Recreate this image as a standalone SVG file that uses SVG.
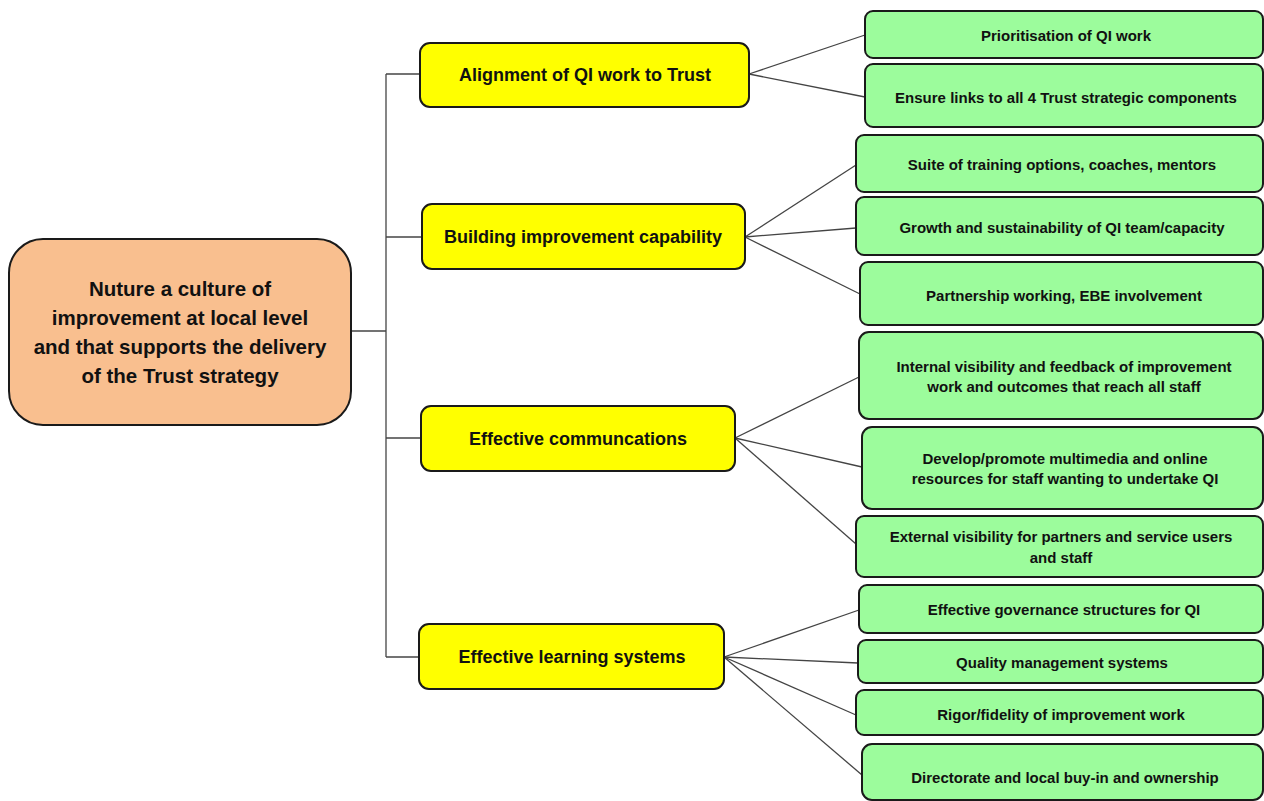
<svg xmlns="http://www.w3.org/2000/svg" width="1264" height="801" viewBox="0 0 1264 801">
<style>
text{font-family:"Liberation Sans",Arial,sans-serif;font-weight:bold;fill:#111;text-anchor:middle;dominant-baseline:central}
.root{fill:#F9BF8F;stroke:#1a1a1a;stroke-width:2}
.y{fill:#FFFF00;stroke:#1a1a1a;stroke-width:2}
.g{fill:#9CFC9C;stroke:#1a1a1a;stroke-width:2}
.rt{font-size:20.5px}
.yt{font-size:18px}
.gt{font-size:15px}
#connectors line{stroke:#444;stroke-width:1.3;fill:none}
</style>
<rect width="1264" height="801" fill="#fff"/>
<g id="connectors">
<line x1="351" y1="331" x2="386" y2="331"/>
<line x1="386" y1="74" x2="386" y2="657"/>
<line x1="386" y1="74" x2="420" y2="74"/>
<line x1="386" y1="237" x2="422" y2="237"/>
<line x1="386" y1="438" x2="421" y2="438"/>
<line x1="386" y1="657" x2="419" y2="657"/>
<line x1="749" y1="74" x2="865" y2="35"/>
<line x1="749" y1="74" x2="865" y2="97"/>
<line x1="745" y1="237" x2="856" y2="165"/>
<line x1="745" y1="237" x2="856" y2="228"/>
<line x1="745" y1="237" x2="860" y2="294"/>
<line x1="735" y1="438" x2="859" y2="377"/>
<line x1="735" y1="438" x2="862" y2="467"/>
<line x1="735" y1="438" x2="856" y2="544"/>
<line x1="724" y1="657" x2="859" y2="610"/>
<line x1="724" y1="657" x2="858" y2="663"/>
<line x1="724" y1="657" x2="856" y2="715"/>
<line x1="724" y1="657" x2="862" y2="775"/>
</g>
<g id="root">
<rect class="root" x="9" y="239" width="342" height="186" rx="34"/>
<text class="rt" x="180" y="288">Nuture a culture of</text>
<text class="rt" x="180" y="317">improvement at local level</text>
<text class="rt" x="180" y="346">and that supports the delivery</text>
<text class="rt" x="180" y="375">of the Trust strategy</text>
</g>
<g id="b1">
<rect class="y" x="420" y="43" width="329" height="64" rx="10"/>
<text class="yt" x="585" y="75">Alignment of QI work to Trust</text>
</g>
<g id="b2">
<rect class="y" x="422" y="204" width="323" height="65" rx="10"/>
<text class="yt" x="583" y="237">Building improvement capability</text>
</g>
<g id="b3">
<rect class="y" x="421" y="406" width="314" height="65" rx="10"/>
<text class="yt" x="578" y="439">Effective communcations</text>
</g>
<g id="b4">
<rect class="y" x="419" y="624" width="305" height="65" rx="10"/>
<text class="yt" x="572" y="657">Effective learning systems</text>
</g>
<g id="g1">
<rect class="g" x="865" y="11" width="398" height="47" rx="8"/>
<text class="gt" x="1066" y="35">Prioritisation of QI work</text>
</g>
<g id="g2">
<rect class="g" x="865" y="64" width="398" height="63" rx="8"/>
<text class="gt" x="1066" y="97">Ensure links to all 4 Trust strategic components</text>
</g>
<g id="g3">
<rect class="g" x="856" y="135" width="407" height="57" rx="8"/>
<text class="gt" x="1062" y="164">Suite of training options, coaches, mentors</text>
</g>
<g id="g4">
<rect class="g" x="856" y="197" width="407" height="58" rx="8"/>
<text class="gt" x="1062" y="227">Growth and sustainability of QI team/capacity</text>
</g>
<g id="g5">
<rect class="g" x="860" y="262" width="403" height="63" rx="8"/>
<text class="gt" x="1064" y="295">Partnership working, EBE involvement</text>
</g>
<g id="g6">
<rect class="g" x="859" y="332" width="404" height="87" rx="10"/>
<text class="gt" x="1064" y="366">Internal visibility and feedback of improvement</text>
<text class="gt" x="1064" y="386">work and outcomes that reach all staff</text>
</g>
<g id="g7">
<rect class="g" x="862" y="427" width="401" height="82" rx="10"/>
<text class="gt" x="1065" y="458">Develop/promote multimedia and online</text>
<text class="gt" x="1065" y="478">resources for staff wanting to undertake QI</text>
</g>
<g id="g8">
<rect class="g" x="856" y="516" width="407" height="61" rx="8"/>
<text class="gt" x="1061" y="536">External visibility for partners and service users</text>
<text class="gt" x="1061" y="557">and staff</text>
</g>
<g id="g9">
<rect class="g" x="859" y="585" width="404" height="48" rx="8"/>
<text class="gt" x="1064" y="609">Effective governance structures for QI</text>
</g>
<g id="g10">
<rect class="g" x="858" y="640" width="405" height="43" rx="8"/>
<text class="gt" x="1062" y="662">Quality management systems</text>
</g>
<g id="g11">
<rect class="g" x="856" y="690" width="407" height="45" rx="8"/>
<text class="gt" x="1061" y="714">Rigor/fidelity of improvement work</text>
</g>
<g id="g12">
<rect class="g" x="862" y="744" width="401" height="56" rx="10"/>
<text class="gt" x="1065" y="777">Directorate and local buy-in and ownership</text>
</g>
</svg>
